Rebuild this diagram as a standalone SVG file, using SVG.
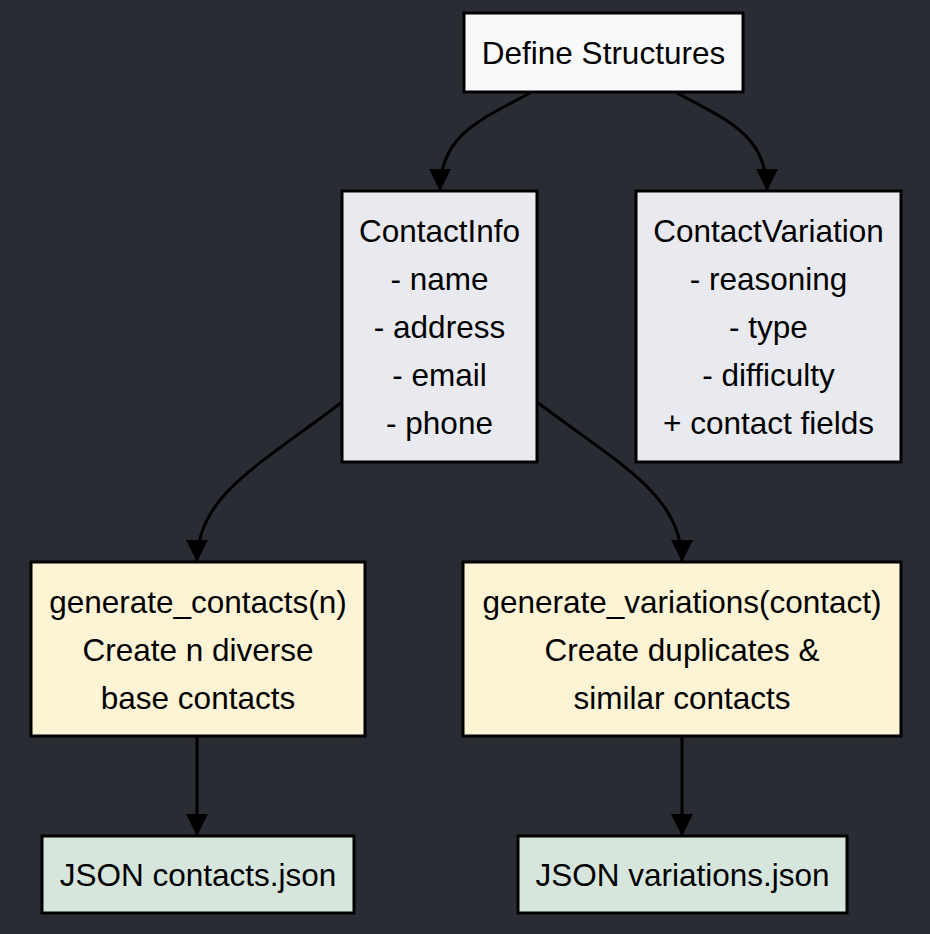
<svg xmlns="http://www.w3.org/2000/svg" width="930" height="934" viewBox="0 0 930 934">
<style>
.bg{fill:#2a2c33}
.box{stroke:#000;stroke-width:3}
.t{font-family:"Liberation Sans",Arial,sans-serif;font-size:31.5px;fill:#000;text-anchor:middle}
.edge{fill:none;stroke:#000;stroke-width:3}
</style>
<defs>
<marker id="ah" viewBox="0 0 10 10" markerUnits="userSpaceOnUse" markerWidth="26" markerHeight="22" refX="10" refY="5" orient="auto">
<path d="M0,0 L10,5 L0,10 z" fill="#000"/>
</marker>
</defs>
<rect class="bg" x="0" y="0" width="930" height="934"/>
<g id="connectors">
<path class="edge" d="M530,93 C480,120 440,135 440,191" marker-end="url(#ah)"/>
<path class="edge" d="M677,93 C727,120 767,135 767,191" marker-end="url(#ah)"/>
<path class="edge" d="M342,402 C260,465 197,495 197,562" marker-end="url(#ah)"/>
<path class="edge" d="M537,402 C620,465 682,495 682,562" marker-end="url(#ah)"/>
<path class="edge" d="M197,736 L197,836" marker-end="url(#ah)"/>
<path class="edge" d="M682,736 L682,836" marker-end="url(#ah)"/>
</g>
<g id="define">
<rect class="box" x="464" y="13" width="279" height="79" fill="#f8f9fb"/>
<text class="t" x="603.5" y="64">Define Structures</text>
</g>
<g id="contactinfo">
<rect class="box" x="342" y="191" width="195" height="271" fill="#e9eaef"/>
<text class="t" x="439.5" y="242">ContactInfo</text>
<text class="t" x="439.5" y="290">- name</text>
<text class="t" x="439.5" y="338">- address</text>
<text class="t" x="439.5" y="386">- email</text>
<text class="t" x="439.5" y="434">- phone</text>
</g>
<g id="contactvariation">
<rect class="box" x="636" y="191" width="265" height="271" fill="#e9eaef"/>
<text class="t" x="768.5" y="242">ContactVariation</text>
<text class="t" x="768.5" y="290">- reasoning</text>
<text class="t" x="768.5" y="338">- type</text>
<text class="t" x="768.5" y="386">- difficulty</text>
<text class="t" x="768.5" y="434">+ contact fields</text>
</g>
<g id="gencontacts">
<rect class="box" x="31" y="562" width="334" height="174" fill="#fdf3d5"/>
<text class="t" x="198" y="613">generate_contacts(n)</text>
<text class="t" x="198" y="661">Create n diverse</text>
<text class="t" x="198" y="709">base contacts</text>
</g>
<g id="genvariations">
<rect class="box" x="463" y="562" width="438" height="174" fill="#fdf3d5"/>
<text class="t" x="682" y="613">generate_variations(contact)</text>
<text class="t" x="682" y="661">Create duplicates &amp;</text>
<text class="t" x="682" y="709">similar contacts</text>
</g>
<g id="jsoncontacts">
<rect class="box" x="42" y="836" width="312" height="77" fill="#d6e6dd"/>
<text class="t" x="198" y="886">JSON contacts.json</text>
</g>
<g id="jsonvariations">
<rect class="box" x="518" y="836" width="329" height="77" fill="#d6e6dd"/>
<text class="t" x="682.5" y="886">JSON variations.json</text>
</g>
</svg>
